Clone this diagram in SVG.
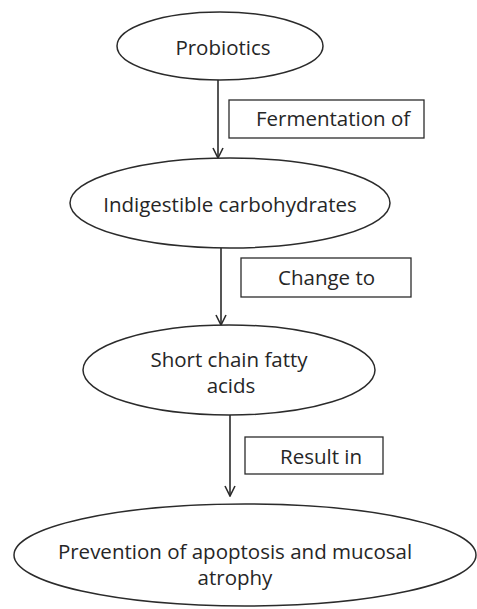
<svg xmlns="http://www.w3.org/2000/svg" width="477" height="609" viewBox="0 0 477 609">
<defs>
<style>
.n{fill:#fff;stroke:#2b2b2b;stroke-width:1.5}
.b{fill:#fff;stroke:#2b2b2b;stroke-width:1.3}
.t{font-family:"Open Sans","DejaVu Sans",sans-serif;font-size:20.5px;fill:#262626}
.c{stroke:#2b2b2b;stroke-width:1.6;fill:none}
</style>
<marker id="ah" viewBox="0 0 12 12" refX="11" refY="6" markerWidth="12" markerHeight="12" markerUnits="userSpaceOnUse" orient="auto">
<path d="M1,1 L11,6 L1,11" fill="none" stroke="#2b2b2b" stroke-width="1.6"/>
</marker>
</defs>
<rect width="477" height="609" fill="#fff"/>
<g id="connectors">
<line class="c" x1="218" y1="80" x2="218" y2="158" marker-end="url(#ah)"/>
<line class="c" x1="221" y1="247" x2="221" y2="325" marker-end="url(#ah)"/>
<line class="c" x1="230" y1="415" x2="230" y2="496" marker-end="url(#ah)"/>
</g>
<g id="label1">
<rect class="b" x="229" y="100" width="195" height="38"/>
<text class="t" x="256" y="126">Fermentation of</text>
</g>
<g id="label2">
<rect class="b" x="241" y="258" width="170" height="39"/>
<text class="t" x="278" y="285">Change to</text>
</g>
<g id="label3">
<rect class="b" x="245" y="437" width="138" height="37"/>
<text class="t" x="280" y="464">Result in</text>
</g>
<g id="probiotics">
<ellipse class="n" cx="220" cy="46" rx="103" ry="34"/>
<text class="t" x="223" y="55" text-anchor="middle">Probiotics</text>
</g>
<g id="carbohydrates">
<ellipse class="n" cx="230" cy="203" rx="160" ry="45"/>
<text class="t" x="230" y="212" text-anchor="middle">Indigestible carbohydrates</text>
</g>
<g id="scfa">
<ellipse class="n" cx="229" cy="370" rx="146" ry="45"/>
<text class="t" x="229" y="367" text-anchor="middle">Short chain fatty</text>
<text class="t" x="231" y="393" text-anchor="middle">acids</text>
</g>
<g id="prevention">
<ellipse class="n" cx="245" cy="555" rx="231" ry="51"/>
<text class="t" x="235" y="559" text-anchor="middle">Prevention of apoptosis and mucosal</text>
<text class="t" x="235" y="585" text-anchor="middle">atrophy</text>
</g>
</svg>
